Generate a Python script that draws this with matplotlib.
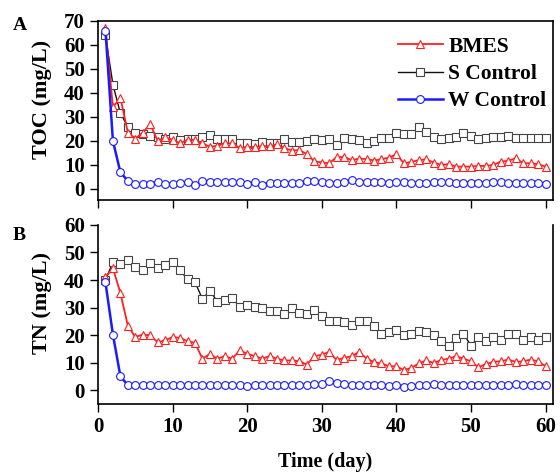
import matplotlib
matplotlib.use("Agg")
import matplotlib.pyplot as plt

plt.rcParams['font.family'] = ['Liberation Serif', 'DejaVu Serif']
plt.rcParams['font.weight'] = 'bold'

days = list(range(1, 61))

# Total organic carbon (mg/L)
toc_bmes = [67, 34, 38, 23.5, 21, 23.5, 27, 20, 21.5, 20.5,
            19, 20.5, 20.5, 19, 17.5, 18, 19, 19, 17, 17.5,
            17.5, 17.8, 17.8, 18.6, 17, 16, 16.2, 14.5, 11.5, 11,
            10.7, 13.3, 13.3, 12, 12.6, 12.5, 11.8, 12.4, 13, 14.5,
            10.7, 11.2, 12, 12.3, 11, 10, 10.3, 9.3, 9.3, 9.3,
            9.6, 9.6, 10, 11.4, 11.7, 12.8, 10.7, 10.7, 10.3, 9.3]
toc_s = [64, 43.5, 31.5, 26, 23.5, 23, 22, 21.5, 21, 21.5,
         20.5, 21, 21, 21.5, 22.5, 21, 21, 20.7, 19.3, 19.3,
         18.9, 19.7, 19.3, 19.3, 20.8, 19.7, 19.7, 20, 21, 20.4,
         20.8, 18.3, 21.4, 20.8, 20.4, 19, 20.1, 21.4, 21.4, 23.2,
         22.8, 22.8, 25.7, 23.6, 21.8, 20.8, 21.1, 21.8, 23.2, 22.1,
         20.8, 21.1, 21.8, 21.8, 22.2, 21.1, 21.1, 21.1, 21.1, 21.4]
toc_w = [66, 20, 7, 3.3, 1.9, 2.1, 2.2, 3.0, 2.1, 2.2,
         2.5, 3.0, 1.5, 3.3, 3.0, 2.9, 2.9, 2.8, 2.7, 2.1,
         3.0, 1.8, 2.6, 2.6, 2.5, 2.6, 2.4, 3.2, 3.4, 3.0,
         2.6, 2.4, 2.8, 3.8, 3.0, 2.8, 2.8, 2.8, 2.6, 2.8,
         2.8, 2.6, 2.4, 2.4, 3.0, 2.8, 2.8, 2.6, 2.6, 2.6,
         2.6, 2.6, 3.0, 2.8, 2.6, 2.6, 2.4, 2.4, 2.4, 2.2]

# Total nitrogen (mg/L)
tn_bmes = [41, 44.3, 35.3, 23.4, 19.3, 20.2, 19.9, 17.4, 18.1, 19.3,
           19.0, 17.8, 17.2, 11.4, 13.2, 11.4, 12.4, 11.4, 14.5, 13.2,
           12.4, 11.4, 12.4, 11.4, 10.8, 10.8, 10.5, 9.3, 12.3, 12.9,
           13.9, 10.9, 11.8, 12.3, 13.9, 11.5, 10.2, 9.7, 8.7, 8.7,
           7.3, 8.1, 9.7, 10.8, 9.9, 10.9, 11.5, 12.3, 11.5, 10.5,
           8.3, 9.5, 10.3, 10.5, 11.1, 10.3, 10.5, 11.1, 10.5, 8.7]
tn_s = [40, 46.4, 45.8, 47.1, 44.6, 43.5, 46.1, 44.3, 45.5, 46.4,
        43.5, 40.3, 39.3, 33.1, 36.1, 32.2, 32.8, 33.4, 30.2, 31.0,
        30.1, 29.8, 28.9, 28.6, 27.7, 29.9, 28.0, 27.7, 29.2, 27.0,
        25.0, 25.0, 24.7, 23.5, 25.2, 25.0, 23.2, 20.5, 21.1, 22.0,
        20.2, 20.4, 21.4, 21.0, 20.2, 17.8, 16.2, 19.0, 20.5, 16.2,
        19.2, 17.8, 19.2, 18.4, 20.4, 20.4, 18.4, 19.2, 18.4, 19.2]
tn_w = [39.1, 20.2, 5.1, 1.8, 1.9, 1.8, 1.8, 2.0, 1.9, 2.0,
        1.9, 1.9, 1.9, 1.9, 1.9, 1.9, 1.9, 1.8, 1.8, 1.6,
        1.8, 1.9, 1.8, 1.9, 1.9, 2.0, 1.9, 2.0, 2.1, 2.3,
        3.3, 2.5, 2.1, 2.0, 2.0, 2.0, 1.9, 1.9, 1.7, 1.8,
        1.2, 1.6, 1.8, 1.9, 2.1, 2.0, 1.9, 2.0, 1.9, 1.9,
        2.0, 1.9, 2.0, 2.0, 2.0, 2.1, 2.0, 1.8, 1.9, 1.9]

series_labels = ['BMES', 'S Control', 'W Control']
xticks = [0, 10, 20, 30, 40, 50, 60]

RED = '#ff1f1f'
BLACK = '#111111'
BLUE = '#1a1aff'
FS = 15

fig = plt.figure(figsize=(5.6, 4.75), dpi=100)
axA = fig.add_axes([0.175, 0.579, 0.8125, 0.377])
axB = fig.add_axes([0.175, 0.1495, 0.8125, 0.377])

mk = dict(markersize=5.6, markeredgewidth=0.8, markerfacecolor='white')


def draw(ax, s, b, w):
    hs, = ax.plot(days, s, color=BLACK, lw=1.0, marker='s',
                  markeredgecolor='#444444', zorder=2, **mk)
    hb, = ax.plot(days, b, color=RED, lw=1.3, marker='^',
                  markeredgecolor=RED, zorder=3, **mk)
    hw, = ax.plot(days, w, color=BLUE, lw=1.8, marker='o',
                  markeredgecolor=BLUE, zorder=4, **mk)
    ax.set_xlim(0, 61)
    ax.set_xticks(xticks)
    ax.tick_params(direction='out', length=6, width=1.0, labelsize=FS,
                   top=False, right=False)
    for sp in ax.spines.values():
        sp.set_linewidth(1.2)
    for lab in ax.get_xticklabels() + ax.get_yticklabels():
        lab.set_fontweight('bold')
    return hb, hs, hw


hb, hs, hw = draw(axA, toc_s, toc_bmes, toc_w)
axA.set_ylim(-4.6, 70)
axA.set_yticks(range(0, 71, 10))
axA.set_xticklabels([])
axA.set_ylabel('TOC (mg/L)', fontsize=16, fontweight='bold')
axA.yaxis.set_label_coords(-0.1, 0.56)
axA.legend([hb, hs, hw], series_labels, loc='upper right', frameon=False,
           bbox_to_anchor=(1.0, 0.947),
           numpoints=1, handlelength=2.1, handletextpad=0.25,
           labelspacing=0.33, borderaxespad=0.0, borderpad=0.3,
           prop={'family': 'Liberation Serif', 'weight': 'bold',
                 'size': 15.5})

draw(axB, tn_s, tn_bmes, tn_w)
axB.set_ylim(-5, 60)
axB.set_yticks(range(0, 61, 10))
axB.spines['top'].set_visible(False)
axB.set_ylabel('TN (mg/L)', fontsize=16, fontweight='bold')
axB.yaxis.set_label_coords(-0.1, 0.564)
axB.set_xlabel('Time (day)', fontsize=14.5, fontweight='bold', labelpad=11)

fig.text(0.022, 0.937, 'A', fontsize=14, fontweight='bold')
fig.text(0.022, 0.495, 'B', fontsize=14, fontweight='bold')

fig.savefig('out.png', dpi=100)
